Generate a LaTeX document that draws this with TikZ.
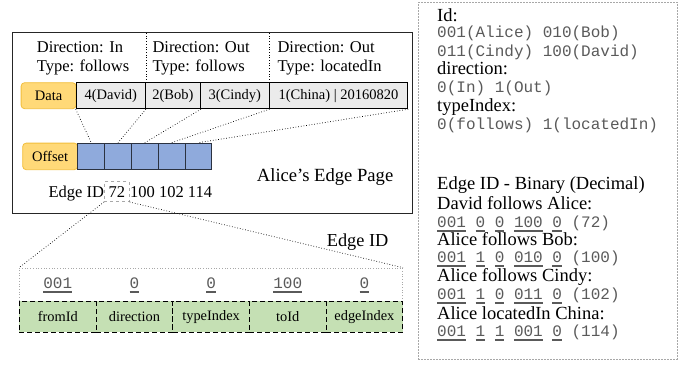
\documentclass[tikz,border=0pt]{standalone}
\usepackage{fontspec}
\setmainfont{Liberation Serif}
\setmonofont{Liberation Mono}
\definecolor{lblfill}{HTML}{FFD978}
\definecolor{lbldraw}{HTML}{F2BE3C}
\definecolor{cellgray}{HTML}{EBEBEB}
\definecolor{offblue}{HTML}{8FAADC}
\definecolor{offdraw}{HTML}{2B3240}
\definecolor{grn}{HTML}{C5E0B4}
\definecolor{monogray}{HTML}{5A5A5A}
\definecolor{boxgray}{HTML}{A8A8A8}
\newcommand\myul[1]{\leavevmode\setbox0\hbox{#1}\rlap{\color{monogray}\rule[-4.3pt]{\wd0}{1.6pt}}\box0\relax}
\tikzset{
  fs/.style={font=\fontsize{#1}{#1}\selectfont},
  txt/.style={inner sep=0, anchor=base west},
  page/.style={draw=black!85, line width=0.9pt, anchor=north west, inner sep=0},
  lbl/.style={draw=lbldraw, fill=lblfill, rounded corners=3.5pt, line width=0.8pt, anchor=north west, inner sep=0, fs=14.5},
  dcell/.style={draw=black, fill=cellgray, line width=0.9pt, anchor=north west, inner sep=0, minimum height=26pt, fs=14.5},
  ocell/.style={draw=offdraw, fill=offblue, line width=1.1pt, anchor=north west, inner sep=0, minimum width=26.8pt, minimum height=26.6pt},
  gcell/.style={draw=black, fill=grn, line width=0.9pt, dash pattern=on 5pt off 3pt, anchor=north west, inner sep=0, minimum width=76.66pt, minimum height=30.7pt, fs=14.4},
  link/.style={dotted, line width=0.7pt},
  mono/.style={inner sep=0, font=\fontsize{16}{16}\selectfont\ttfamily, text=monogray},
}
\begin{document}
\begin{tikzpicture}[x=1pt, y=-1pt]
\useasboundingbox (0,0) rectangle (680,367);

% ---- Alice's edge page ----
\node[page, minimum width=400pt, minimum height=181.6pt] (pg) at (12.3,31.7) {};

\node[txt, fs=16.5] (t1a) at (36.7,52.3) {Direction: In};
\node[txt, fs=16.5] (t1b) at (36.7,71.7) {Type: follows};
\node[txt, fs=16.5] (t2a) at (152.3,52.3) {Direction: Out};
\node[txt, fs=16.5] (t2b) at (152.3,71.7) {Type: follows};
\node[txt, fs=16.5] (t3a) at (277.3,52.3) {Direction: Out};
\node[txt, fs=16.5] (t3b) at (277.3,71.7) {Type: locatedIn};

\node[lbl, minimum width=55pt, minimum height=26pt] (data) at (20.7,82.3) {Data};
\node[dcell, minimum width=69.3pt] (d1) at (75.7,82.3) {4(David)};
\node[dcell, minimum width=55pt] (d2) at (145,82.3) {2(Bob)};
\node[dcell, minimum width=68.7pt] (d3) at (200,82.3) {3(Cindy)};
\node[dcell, minimum width=138.6pt] (d4) at (268.7,82.3) {1(China) | 20160820};

\draw[link] (d1.north east) -- (d1.north east |- pg.north);
\draw[link] (d3.north east) -- (d3.north east |- pg.north);

\node[lbl, minimum width=55pt, minimum height=26.6pt] (off) at (22.3,142.7) {Offset};
\foreach \i in {1,...,5} {
  \node[ocell] (o\i) at ({77.3+26.8*(\i-1)},142.7) {};
}
\draw[link] (d1.south west) -- (o1.north);
\draw[link] (d1.south east) -- (o2.north);
\draw[link] (d2.south east) -- (o3.north);
\draw[link] (d3.south east) -- (o4.north);
\draw[link] (d4.south east) -- (o5.north);

\node[txt, fs=18.6] (title) at (256.7,181.7) {Alice’s Edge Page};

\node[inner sep=0, anchor=base east, fs=16.5] (eid) at (104.3,197.3) {Edge ID};
\node[draw=boxgray, dashed, line width=0.6pt, inner sep=0, minimum width=25pt, minimum height=20pt, fs=16.5] (n72) at (116.8,191.7) {72};
\node[txt, fs=16.5] (rest) at (130,197.3) {100 102 114};

% ---- Edge ID breakdown ----
\node[txt, fs=18.3] (eidlbl) at (326.7,246) {Edge ID};
\node[draw=boxgray, dotted, line width=0.7pt, anchor=north west, inner sep=0, minimum width=383.3pt, minimum height=33.3pt] (ebox) at (19,267.7) {};
\draw[link] (n72.south west) -- (ebox.north west);
\draw[link] (n72.south east) -- (ebox.north east);

\node[gcell] (g1) at (19,301) {fromId};
\node[gcell] (g2) at (95.66,301) {direction};
\node[gcell] (g3) at (172.32,301) {typeIndex};
\node[gcell] (g4) at (248.98,301) {toId};
\node[gcell] (g5) at (325.64,301) {edgeIndex};

\node[mono, anchor=base] (b1) at (g1.center |- 0,288.3) {\myul{001}};
\node[mono, anchor=base] (b2) at (g2.center |- 0,288.3) {\myul{0}};
\node[mono, anchor=base] (b3) at (g3.center |- 0,288.3) {\myul{0}};
\node[mono, anchor=base] (b4) at (g4.center |- 0,288.3) {\myul{100}};
\node[mono, anchor=base] (b5) at (g5.center |- 0,288.3) {\myul{0}};

% ---- Legend ----
\node[draw=boxgray, dash pattern=on 2pt off 1pt, line width=0.6pt, anchor=north west, inner sep=0, minimum width=258.7pt, minimum height=357pt] (legend) at (418,2) {};

\node[txt, fs=18.5] (l1) at (437,21.5) {Id:};
\node[mono, anchor=base west] (l2) at (437,37) {001(Alice) 010(Bob)};
\node[mono, anchor=base west] (l3) at (437,56) {011(Cindy) 100(David)};
\node[txt, fs=18.5] (l4) at (437,74) {direction:};
\node[mono, anchor=base west] (l5) at (437,92.3) {0(In) 1(Out)};
\node[txt, fs=18.5] (l6) at (437,111.7) {typeIndex:};
\node[mono, anchor=base west] (l7) at (437,129.3) {0(follows) 1(locatedIn)};

\node[txt, fs=18.5] (l8) at (437,189) {Edge ID - Binary (Decimal)};
\node[txt, fs=18.5] (l9) at (437,209) {David follows Alice:};
\node[mono, anchor=base west] (l10) at (437,227.3) {\myul{001} \myul{0} \myul{0} \myul{100} \myul{0} (72)};
\node[txt, fs=18.5] (l11) at (437,245.3) {Alice follows Bob:};
\node[mono, anchor=base west] (l12) at (437,262.7) {\myul{001} \myul{1} \myul{0} \myul{010} \myul{0} (100)};
\node[txt, fs=18.5] (l13) at (437,281) {Alice follows Cindy:};
\node[mono, anchor=base west] (l14) at (437,299.3) {\myul{001} \myul{1} \myul{0} \myul{011} \myul{0} (102)};
\node[txt, fs=18.5] (l15) at (437,319) {Alice locatedIn China:};
\node[mono, anchor=base west] (l16) at (437,336.7) {\myul{001} \myul{1} \myul{1} \myul{001} \myul{0} (114)};
\end{tikzpicture}
\end{document}
